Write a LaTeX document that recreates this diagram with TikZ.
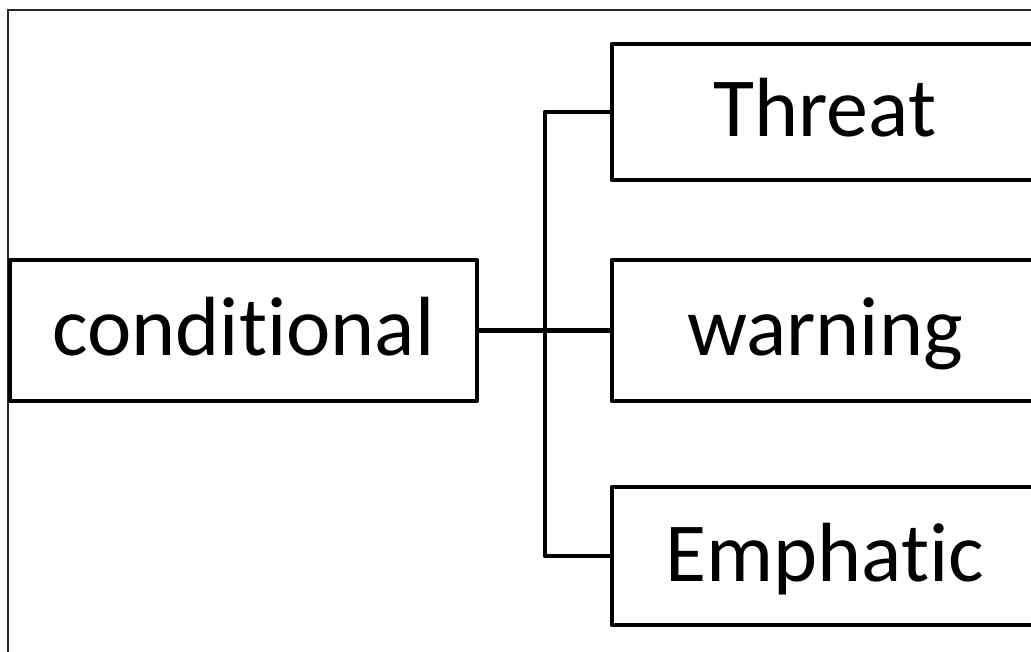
\documentclass[tikz,border=0pt]{standalone}
\usepackage{fontspec}
\setmainfont{Carlito}[Ligatures={NoCommon,TeX}]
\begin{document}
\begin{tikzpicture}[x=1pt,y=-1pt,
  catbox/.style={draw=black, line width=4.5pt, line join=round, fill=white,
    inner sep=0pt, text height=58pt, text depth=8pt,
    font=\fontsize{84}{100}\selectfont},
  link/.style={draw=black, line width=4.5pt, line join=round}]
\useasboundingbox (0,0) rectangle (1031,652);
\clip (0,0) rectangle (1031,652);
\fill[white] (0,0) rectangle (1031,652);
% outer frame (partly outside the page)
\draw[line width=1.5pt, draw=black!85] (8,700) -- (8,10) -- (1100,10);
% nodes
\node[catbox, minimum width=467pt, minimum height=141pt] (cond) at (243.5,330.5) {conditional};
\node[catbox, minimum width=426pt, minimum height=136pt] (threat) at (825,112) {Threat};
\node[catbox, minimum width=426pt, minimum height=141pt] (warn) at (825,330.5) {warning};
\node[catbox, minimum width=426pt, minimum height=138pt] (emph) at (825,556) {Emphatic};
\coordinate (trunk) at (545,330.5);
% connectors
\draw[link] (cond.east) -- (warn.west);
\draw[link] (threat.west) -| (trunk) |- (emph.west);
\end{tikzpicture}
\end{document}
